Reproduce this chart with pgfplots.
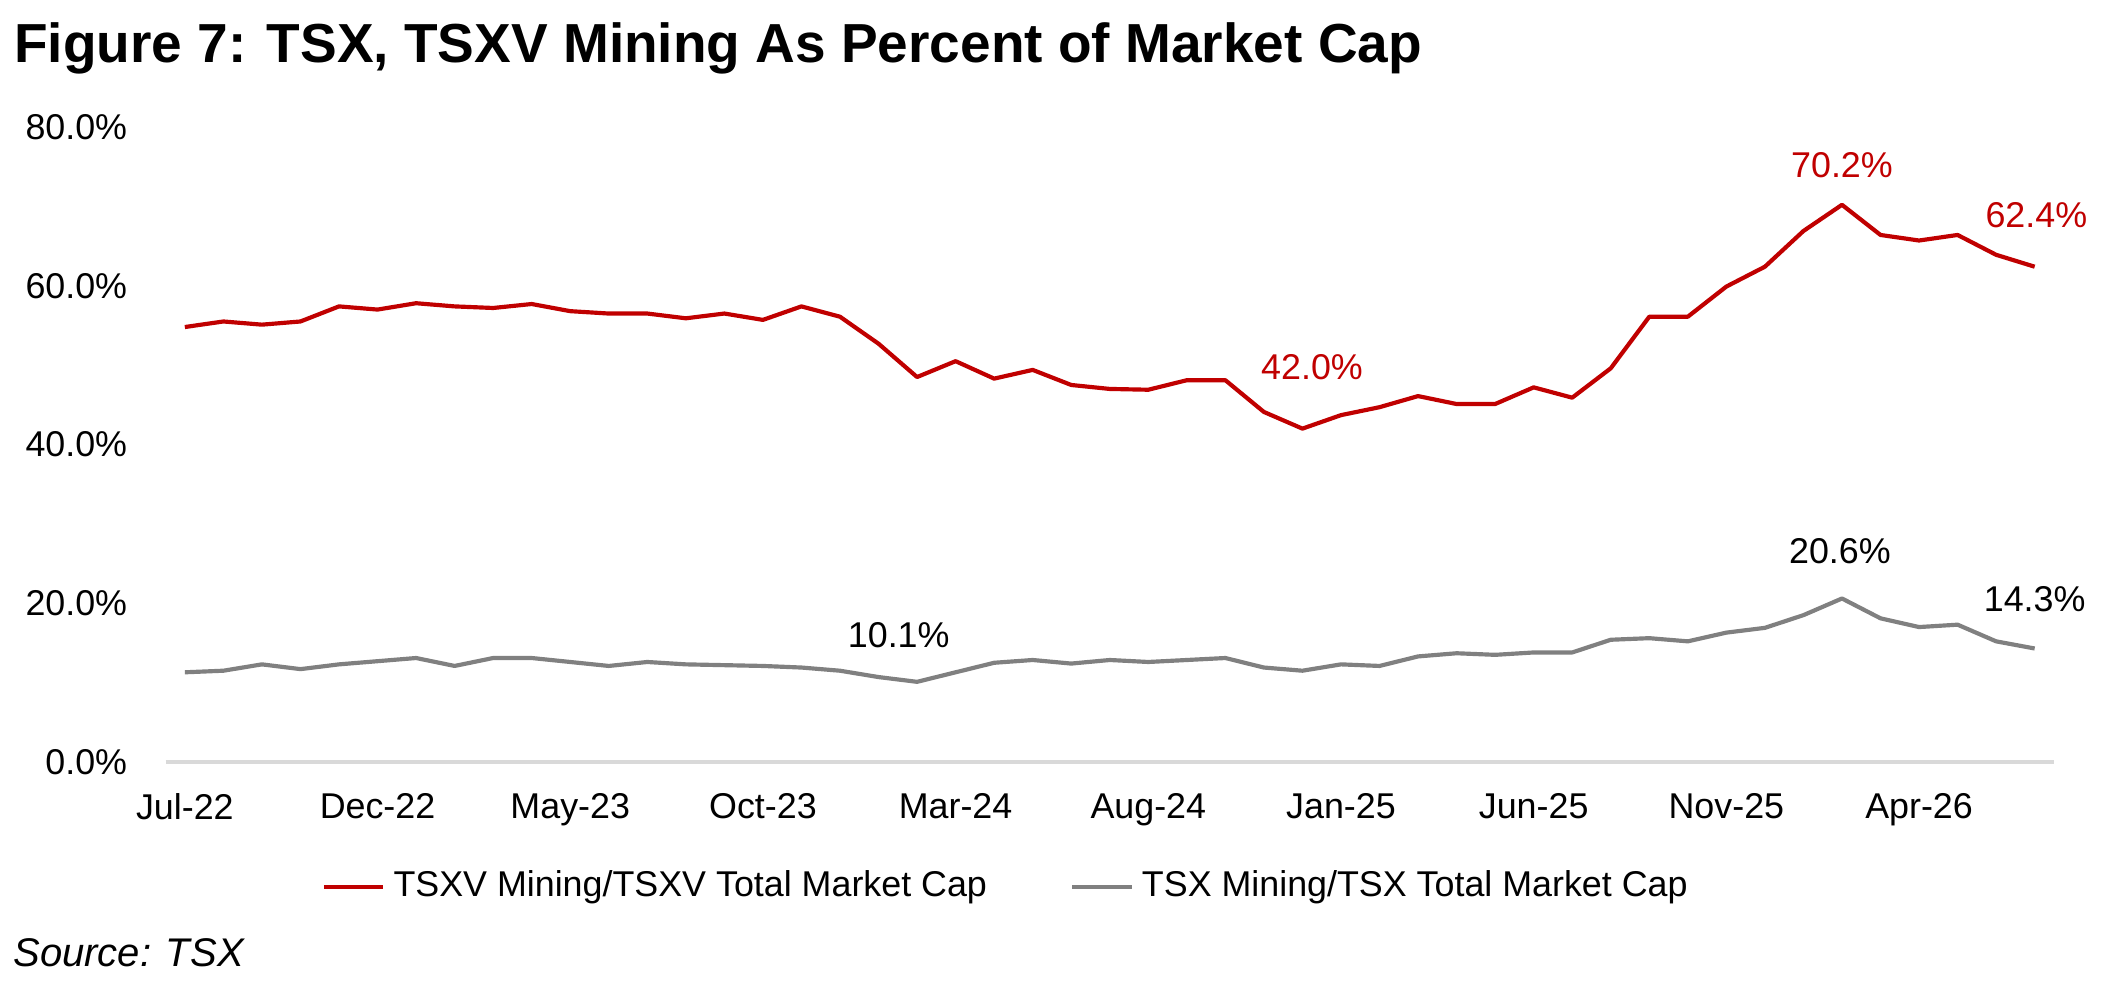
\documentclass[border=0pt]{standalone}
\usepackage{fontspec}
\setmainfont{Liberation Sans}
\usepackage{pgfplots}
\usepackage{pgfplotstable}
\pgfplotsset{compat=1.18}
\definecolor{tsxvred}{HTML}{C00000}
\definecolor{tsxgray}{HTML}{808080}
\definecolor{basegray}{HTML}{D9D9D9}
\pgfplotstableread{
i v
0 54.8
1 55.5
2 55.1
3 55.5
4 57.4
5 57.0
6 57.8
7 57.4
8 57.2
9 57.7
10 56.8
11 56.5
12 56.5
13 55.9
14 56.5
15 55.7
16 57.4
17 56.1
18 52.7
19 48.5
20 50.5
21 48.3
22 49.4
23 47.5
24 47.0
25 46.9
26 48.1
27 48.1
28 44.1
29 42.0
30 43.7
31 44.7
32 46.1
33 45.1
34 45.1
35 47.2
36 45.9
37 49.6
38 56.1
39 56.1
40 59.9
41 62.4
42 66.9
43 70.2
44 66.4
45 65.7
46 66.4
47 63.9
48 62.4
}\tsxv
\pgfplotstableread{
i v
0 11.3
1 11.5
2 12.3
3 11.7
4 12.3
5 12.7
6 13.1
7 12.1
8 13.1
9 13.1
10 12.6
11 12.1
12 12.6
13 12.3
14 12.2
15 12.1
16 11.9
17 11.5
18 10.7
19 10.1
20 11.3
21 12.5
22 12.85
23 12.4
24 12.85
25 12.6
26 12.85
27 13.1
28 11.9
29 11.5
30 12.3
31 12.1
32 13.3
33 13.7
34 13.5
35 13.8
36 13.8
37 15.4
38 15.6
39 15.2
40 16.3
41 16.9
42 18.5
43 20.6
44 18.1
45 17.0
46 17.3
47 15.2
48 14.3
}\tsx
\begin{document}
\begin{tikzpicture}
\useasboundingbox (0,0) rectangle (508.32pt,238.08pt);
\node[anchor=base west, inner sep=0pt, font=\fontsize{13.2}{15}\selectfont\bfseries] at (3.2pt,223pt) {Figure 7: TSX, TSXV Mining As Percent of Market Cap};
\node[anchor=base west, inner sep=0pt, font=\fontsize{9.6}{11}\selectfont\itshape] at (3pt,6pt) {Source: TSX};
\begin{axis}[
 at={(39.74pt,55.2pt)}, anchor=south west,
 width=453.2pt, height=152.4pt, scale only axis,
 xmin=-0.5, xmax=48.5, ymin=0, ymax=80,
 axis line style={draw=none},
 tick style={draw=none},
 xtick={0,5,...,45},
 xticklabels={Jul-22,Dec-22,May-23,Oct-23,Mar-24,Aug-24,Jan-25,Jun-25,Nov-25,Apr-26},
 ytick={0,20,40,60,80},
 yticklabel={\pgfmathprintnumber[fixed,fixed zerofill,precision=1]{\tick}\%},
 /pgf/number format/assume math mode=true,
 ticklabel style={font=\fontsize{8.6}{10}\selectfont},
 yticklabel style={xshift=-5.7pt},
 xticklabel style={yshift=-4pt},
 clip=false,
 legend columns=2,
 legend style={at={(0.4466,-0.1964)}, anchor=center, draw=none, fill=none,
   font=\fontsize{8.6}{10}\selectfont, inner sep=0pt,
   /tikz/every even column/.append style={column sep=18pt}},
 legend image code/.code={\draw[#1] (0pt,0pt) -- (14.2pt,0pt);},
]
\draw[basegray, line width=0.75pt] (axis cs:-0.5,0) -- (axis cs:48.5,0);
\addplot[tsxvred, line width=1pt, line join=round] table[x=i,y=v] {\tsxv};
\addlegendentry{TSXV Mining/TSXV Total Market Cap}
\addplot[tsxgray, line width=1pt, line join=round] table[x=i,y=v] {\tsx};
\addlegendentry{TSX Mining/TSX Total Market Cap}
\node[tsxvred, font=\fontsize{8.6}{10}\selectfont, xshift=2.3pt, yshift=14.8pt] at (axis cs:29,42.0) {42.0\%};
\node[tsxvred, font=\fontsize{8.6}{10}\selectfont, yshift=9.4pt] at (axis cs:43,70.2) {70.2\%};
\node[tsxvred, font=\fontsize{8.6}{10}\selectfont, xshift=0.4pt, yshift=12.4pt] at (axis cs:48,62.4) {62.4\%};
\node[font=\fontsize{8.6}{10}\selectfont, xshift=-4.4pt, yshift=11.2pt] at (axis cs:19,10.1) {10.1\%};
\node[font=\fontsize{8.6}{10}\selectfont, xshift=-0.5pt, yshift=11.4pt] at (axis cs:43,20.6) {20.6\%};
\node[font=\fontsize{8.6}{10}\selectfont, yshift=11.9pt] at (axis cs:48,14.3) {14.3\%};
\end{axis}
\end{tikzpicture}
\end{document}
